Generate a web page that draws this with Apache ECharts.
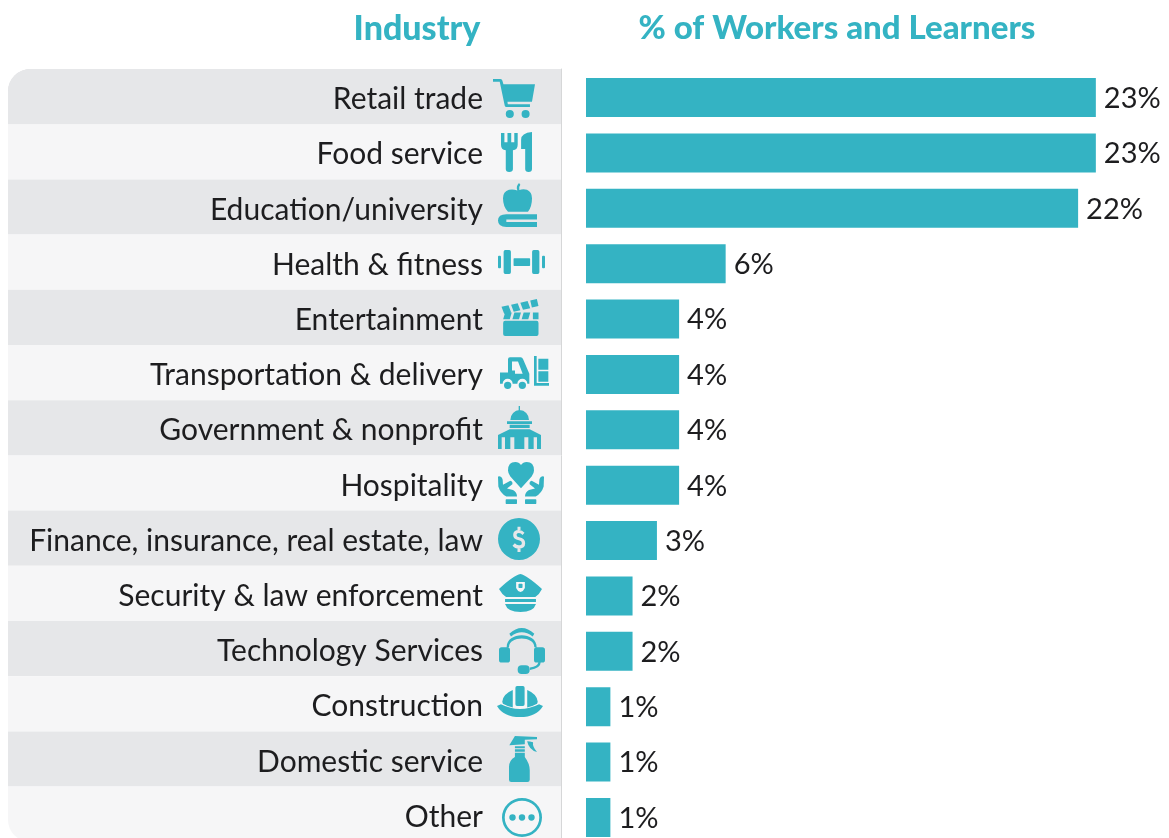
<!DOCTYPE html>
<html>
<head>
<meta charset="utf-8">
<style>html,body{margin:0;padding:0;background:#fff;height:838px;overflow:hidden}#c{width:1169px;height:850px}</style>
<script src="https://cdn.jsdelivr.net/npm/echarts@6/dist/echarts.min.js"></script>
</head>
<body>
<div id="c"></div>
<script>
const categories = ["Retail trade","Food service","Education/university","Health & fitness","Entertainment","Transportation & delivery","Government & nonprofit","Hospitality","Finance, insurance, real estate, law","Security & law enforcement","Technology Services","Construction","Domestic service","Other"];
const shareValues = [23.0,23.0,22.2,6.3,4.2,4.2,4.2,4.2,3.2,2.1,2.1,1.1,1.1,1.1];

const TEAL = '#34b3c3', INK = '#1d1d1f', FONT = 'Lato, "Noto Sans", sans-serif';

// icon outline helpers (clockwise = solid, counter-clockwise = hole)
const rr = (x,y,w,h,r=0) => `M${x+r} ${y}L${x+w-r} ${y}Q${x+w} ${y} ${x+w} ${y+r}L${x+w} ${y+h-r}Q${x+w} ${y+h} ${x+w-r} ${y+h}L${x+r} ${y+h}Q${x} ${y+h} ${x} ${y+h-r}L${x} ${y+r}Q${x} ${y} ${x+r} ${y}Z`;
const hole = (x,y,w,h) => `M${x} ${y}L${x} ${y+h}L${x+w} ${y+h}L${x+w} ${y}Z`;
const circ = (cx,cy,r) => `M${cx-r} ${cy}A${r} ${r} 0 1 1 ${cx+r} ${cy}A${r} ${r} 0 1 1 ${cx-r} ${cy}Z`;
const circHole = (cx,cy,r) => `M${cx-r} ${cy}A${r} ${r} 0 1 0 ${cx+r} ${cy}A${r} ${r} 0 1 0 ${cx-r} ${cy}Z`;
const slat = (x0,y0,x1,y1,s,h) => `M${x0} ${y0}L${x1} ${y1}L${x1+s} ${y1+h}L${x0+s} ${y0+h}Z`;

const iconPaths = [
 // cart
 'M40 27L62 27Q67 27 68 32L71 43L165 43L156 95L83 95L84 103L150 103L150 111L80 111Q76 111 75 107L60 35L40 35Z' + circ(90,132,12) + circ(137,132,12),
 // fork and knife
 'M64 190L74 190L74 218L83 218L83 190L94 190L94 218L103 218L103 190L113 190L113 225Q113 240 99 242L99 298Q99 307 88 307Q78 307 78 298L78 242Q64 240 64 225Z' +
 'M155 187L155 298Q155 307 145 307Q135 307 135 298L135 238L123 238L123 210Q123 190 155 187Z',
 // apple on book
 'M113 362Q108 350 118 340L122 345Q116 352 119 361Q130 356 142 360Q157 367 157 385Q157 410 145 425L85 425Q70 410 70 385Q70 365 88 360Q100 357 113 362Z' +
 'M172 432L172 448L80 448L80 455L172 455L172 470L80 470Q55 470 55 451Q55 432 80 432Z',
 // dumbbell
 rr(53,557,9,38,3)+rr(70,540,22,72,5)+rr(100,565,50,23,2)+rr(156,540,22,72,5)+rr(186,557,9,38,3),
 // clapperboard
 slat(63,80,84,75.5,8,21)+slat(92,74,112,69.7,8,21)+slat(120,68,142,63.3,8,21)+slat(150,61.6,170,57,5,21)+
 slat(74,97,94,97,-6,20)+slat(102,97,122,97,-6,20)+slat(130,97,150,97,-6,20)+slat(158,97,175,97,0,20)+rr(68,122,107,45,6),
 // forklift and boxes
 'M60 278L84 278L84 238Q84 232 90 232L122 232Q127 232 129 237L148 282L148 312L142 312A15 15 0 0 0 112 312L98 312A15 15 0 0 0 68 312L60 312Z' +
 'M96 245L96 272L105 272L105 282L128 282L114 245Z' + circ(83,317,11) + circ(127,317,11) +
 'M162 228L170 228L170 310L207 310L207 318L162 318Z' + rr(175,236,30,34) + rr(175,274,30,32),
 // capitol
 rr(115,378,4,14) + 'M90 420A28 30 0 0 1 146 420Z' + rr(80,424,75,8) + rr(88,434,60,10) +
 'M53 465L88 448L148 448L182 465L182 507L53 507Z' + hole(64,472,10,35) + hole(90,472,12,35) + hole(132,472,12,35) + hole(160,472,10,35),
 // hands and heart
 'M124 625L92 590Q85 580 85 572Q85 547 107 547Q118 547 124 556Q130 547 141 547Q163 547 163 572Q163 580 156 590Z' +
 'M55 592Q55 588 62 590Q68 592 69 600L70 615L92 603Q100 605 98 613L82 626L100 630Q112 636 112 650L80 650Q62 640 56 620Z' + rr(78,658,34,14,2) +
 'M193 592Q193 588 186 590Q180 592 179 600L178 615L156 603Q148 605 150 613L166 626L148 630Q136 636 136 650L168 650Q186 640 192 620Z' + rr(136,658,34,14,2),
 // dollar in circle
 circ(117.5,777,63) +
 'M134 758Q128 750 117 750Q100 750 100 765Q100 778 117 781Q126 783 126 790Q126 796 117 796Q110 796 105 790L98 797Q105 806 117 806Q136 806 136 790Q136 775 118 772Q110 770 110 764Q110 759 117 759Q124 759 128 765Z' +
 hole(113,740,9,10) + hole(113,806,9,10),
 // police cap
 'M121 43Q140 47 185 88Q178 103 165 112L78 112Q65 103 57 88Q100 47 121 43Z' +
 'M108 67L108 85Q112 95 121 97Q130 95 134 85L134 67Z' + rr(115,72,12,13,2) +
 rr(75,118,92,9) + 'M75 133L167 133Q160 157 121 157Q82 157 75 133Z',
 // headset
 'M88 222Q125 188 163 222L158 230Q125 205 93 230Z' + 'M80 262C80 215 170 215 170 262L163 262C163 228 87 228 87 262Z' +
 rr(57,262,33,46,8) + rr(162,262,33,46,8) + 'M175 308L182 308Q182 325 150 330L150 323Q173 320 175 308Z' + rr(113,316,36,26,12),
 // hard hat
 rr(106,378,28,59,5) + 'M98 390Q68 402 66 425L68 431Q85 440 98 442Z' + 'M142 390Q172 402 174 425L172 431Q155 440 142 442Z' +
 'M50 437L62 432Q120 460 178 432L190 437Q170 470 120 470Q70 470 50 437Z',
 // spray bottle
 'M105 527L172 530L172 537L135 538L135 552L88 555Z' + 'M142 543Q150 543 160 546Q158 560 172 575Q148 570 142 543Z' +
 rr(105,558,30,6) + rr(105,567,30,7) + 'M105 577L135 577L135 590Q150 610 150 630L150 658Q150 665 143 665L94 665Q87 665 87 658L87 620Q87 600 105 590Z',
 // ellipsis in circle
 circ(126,772.5,59) + circHole(126,772.5,51) + circ(98,772.5,9.5) + circ(126,772.5,9.5) + circ(154,772.5,9.5)
];
// width, height, dx, dy of each icon relative to the icon column / row centre
const iconBoxes = [[42,39,-6,1.9],[31,40,-3.5,.2],[39,44,-2.5,-2],[47,24,1.5,-.2],[37,37,0,.1],[49,33,4.5,-.1],[43,43,-.5,-.3],[46,42,1,0],[42,42,-1,.8],[43,38,.5,-.4],[46,46,2,2.4],[46,31,0,-2.3],[28,46,3,0],[40,39,2,3.3]];

const last = categories.length - 1;
const chart = echarts.init(document.getElementById('c'));
chart.setOption({
  animation:false,
  backgroundColor:'#fff',
  title:[
    {text:'Industry',left:412,top:7,textAlign:'center',textStyle:{fontFamily:FONT,fontWeight:900,fontSize:34,color:TEAL}},
    {text:'% of Workers and Learners',left:832,top:7,textAlign:'center',textStyle:{fontFamily:FONT,fontWeight:900,fontSize:33,color:TEAL}}
  ],
  grid:[
    {left:8,top:69,width:553,height:772.8},
    {left:586,top:69.8,width:583,height:775.4}
  ],
  xAxis:[
    {gridIndex:0,type:'value',min:0,max:553,show:false},
    {gridIndex:1,type:'value',min:0,max:26.3,show:false}
  ],
  yAxis:[
    {gridIndex:0,type:'category',inverse:true,data:categories,position:'right',z:5,
     axisTick:{show:false},axisLine:{show:true,onZero:false,lineStyle:{color:'#d6d7d8',width:1}},splitLine:{show:false},
     axisLabel:{inside:true,margin:78,interval:0,verticalAlign:'top',lineHeight:6,fontFamily:FONT,fontWeight:400,fontSize:30,color:INK}},
    {gridIndex:1,type:'category',inverse:true,data:categories,show:false}
  ],
  series:[
    // thin outline behind the first row only: its inner half is covered by the row fills
    {type:'bar',xAxisIndex:0,yAxisIndex:0,barWidth:'100%',barGap:'-100%',z:0,silent:true,clip:false,
     data:categories.map((c,i)=>i===0?{value:553,itemStyle:{color:'#e6e7e9',borderRadius:[22,0,0,0],borderColor:'#d8d9da',borderWidth:2}}:'-')},
    {type:'bar',xAxisIndex:0,yAxisIndex:0,barWidth:'100%',barGap:'-100%',z:1,silent:true,
     data:categories.map((c,i)=>({value:553,itemStyle:{
        color:i%2?'#f6f6f7':'#e6e7e9',
        borderRadius:i===0?[22,0,0,0]:(i===last?[0,0,0,22]:0)}}))},
    {type:'scatter',xAxisIndex:0,yAxisIndex:0,z:6,clip:false,silent:true,
     itemStyle:{color:TEAL,opacity:1},
     data:categories.map((c,i)=>({value:[512,i],symbol:'path://'+iconPaths[i],symbolSize:[iconBoxes[i][0],iconBoxes[i][1]],symbolOffset:[iconBoxes[i][2],iconBoxes[i][3]]}))},
    {type:'bar',xAxisIndex:1,yAxisIndex:1,barWidth:39,itemStyle:{color:TEAL},
     label:{show:true,position:'right',distance:8,offset:[0,1],fontFamily:FONT,fontWeight:400,fontSize:29,color:INK,formatter:p=>Math.round(p.value)+'%'},
     data:shareValues}
  ]
});
</script>
</body>
</html>
